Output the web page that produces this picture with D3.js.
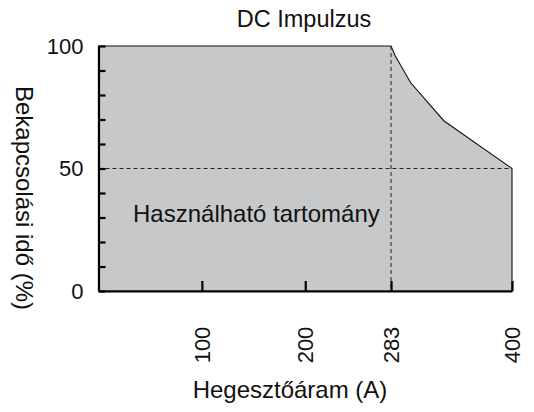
<!DOCTYPE html>
<html>
<head>
<meta charset="utf-8">
<script src="https://cdn.jsdelivr.net/npm/d3@7"></script>
<style>
body { margin: 0; background: #fff; }
svg { font-family: "Liberation Sans", Arial, sans-serif; }
</style>
</head>
<body>
<div class="chart"></div>
<script>
var width = 534,
	height = 412;
// duty-cycle boundary (current A, on-time %)
var currents = [0, 0, 283, 287, 302, 334, 400, 400];
var dutyCycle = [0, 100, 100, 96, 85, 69.5, 50, 0];
var xTicks = [100, 200, 283, 400];
var yTicks = [0, 10, 20, 30, 40, 50, 60, 70, 80, 90, 100];
var yLabels = [0, 50, 100];
var refCurrent = 283, refDuty = 50;

var svg = d3.select(".chart").append("svg").attr("width", width).attr("height", height);
var x = d3.scaleLinear().domain([0, 400]).range([98.5, 512]);
var y = d3.scaleLinear().domain([0, 100]).range([291, 46]);

var pts = currents.map(function(c, i){ return [c, dutyCycle[i]]; });
var line = d3.line().x(function(d){ return x(d[0]); }).y(function(d){ return y(d[1]); });
svg.append("path").attr("d", line(pts) + "Z")
	.attr("fill", "#c7c8ca").attr("stroke", "#111").attr("stroke-width", 1.1);

// dashed reference lines
svg.append("line").attr("x1", x(refCurrent)).attr("x2", x(refCurrent)).attr("y1", y(100)).attr("y2", y(0))
	.attr("stroke", "#222").attr("stroke-width", 1).attr("stroke-dasharray", "4,3");
svg.append("line").attr("x1", x(0)).attr("x2", x(400)).attr("y1", y(refDuty)).attr("y2", y(refDuty))
	.attr("stroke", "#222").attr("stroke-width", 1).attr("stroke-dasharray", "4,3");

var xAxis = d3.axisBottom(x).tickValues(xTicks).tickSizeInner(-10).tickSizeOuter(0).tickPadding(0);
var gx = svg.append("g").attr("transform", "translate(0," + y(0) + ")").call(xAxis);
gx.select(".domain").attr("stroke", "#000").attr("stroke-width", 2.2);
gx.selectAll(".tick line").attr("stroke", "#000").attr("stroke-width", 2.2);
gx.selectAll(".tick text").attr("font-size", 22).attr("fill", "#111")
	.attr("transform", "rotate(-90)").attr("text-anchor", "middle")
	.attr("x", -54).attr("y", 0).attr("dy", "0.35em");

var yAxis = d3.axisLeft(y).tickValues(yTicks).tickSizeInner(-7).tickSizeOuter(0).tickPadding(15)
	.tickFormat(function(d){ return yLabels.indexOf(d) >= 0 ? d : ""; });
var gy = svg.append("g").attr("transform", "translate(" + x(0) + ",0)").call(yAxis);
gy.select(".domain").attr("stroke", "#000").attr("stroke-width", 2.2);
gy.selectAll(".tick line").attr("stroke", "#000").attr("stroke-width", 2.2);
gy.selectAll(".tick text").attr("font-size", 22).attr("fill", "#111");

svg.append("text").attr("x", 304).attr("y", 27).attr("text-anchor", "middle")
	.attr("font-size", 23.5).attr("fill", "#111").text("DC Impulzus");
svg.append("text").attr("x", 290).attr("y", 398).attr("text-anchor", "middle")
	.attr("font-size", 24).attr("fill", "#111").text("Hegesztőáram (A)");
svg.append("text").attr("transform", "translate(24,198) rotate(90)").attr("text-anchor", "middle")
	.attr("dy", "0.35em").attr("font-size", 24).attr("fill", "#111").text("Bekapcsolási idő (%)");
svg.append("text").attr("x", 133).attr("y", 222)
	.attr("font-size", 24).attr("fill", "#111").text("Használható tartomány");
</script>
</body>
</html>
